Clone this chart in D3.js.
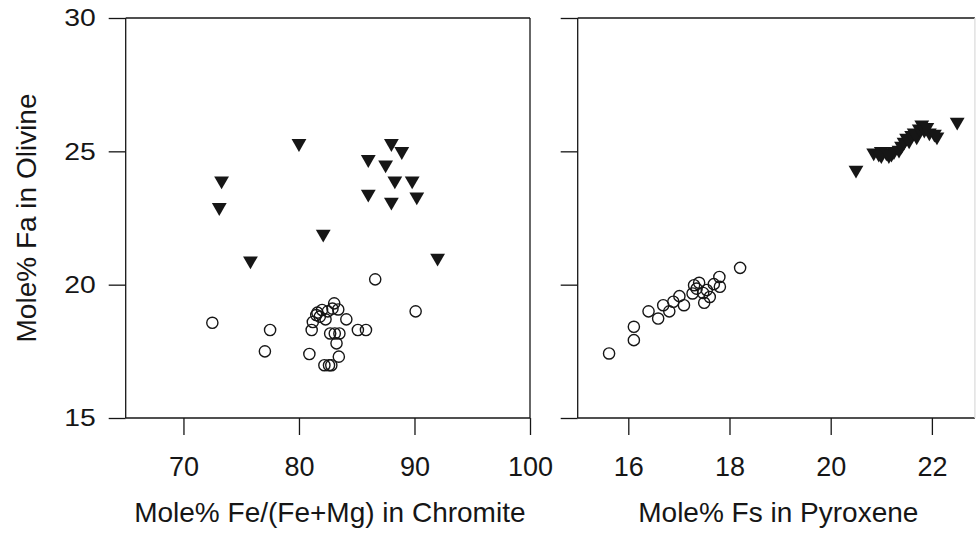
<!DOCTYPE html>
<html>
<head>
<meta charset="utf-8">
<script src="https://cdn.jsdelivr.net/npm/d3@7"></script>
<style>
body { margin: 0; background: #fff; }
svg { display: block; font-family: 'Liberation Sans', Arial, sans-serif; }
</style>
</head>
<body>
<svg id="chart" width="977" height="538"></svg>
<script>
// Mole% Fa in olivine, shared by both panels
var yTicks = [15, 20, 25, 30]
var yTitle = 'Mole% Fa in Olivine'

// left panel: Fe/(Fe+Mg) in chromite vs Fa in olivine
var chromiteTicks = [70, 80, 90, 100]
var chromiteTitle = 'Mole% Fe/(Fe+Mg) in Chromite'
var chromiteCircles = [
    [72.5, 18.57], [77.5, 18.3], [77.05, 17.5], [80.9, 17.4], [86.6, 20.2],
    [90.1, 19.0], [84.1, 18.7], [85.1, 18.3], [85.8, 18.3], [83.05, 19.3],
    [83.4, 19.07], [82.0, 19.05], [82.5, 19.0], [81.5, 18.86], [81.2, 18.6],
    [81.8, 18.8], [82.3, 18.7], [81.1, 18.3], [82.7, 18.17], [83.1, 18.17],
    [83.5, 18.17], [83.25, 17.8], [83.45, 17.3], [82.2, 16.98], [82.6, 16.98],
    [82.8, 16.98], [82.9, 19.1], [81.6, 18.95]
]
var chromiteTriangles = [
    [80.0, 25.3], [88.0, 25.3], [88.9, 25.0], [86.0, 24.7], [87.5, 24.5],
    [73.3, 23.9], [88.3, 23.9], [89.8, 23.9], [73.1, 22.9], [86.0, 23.4],
    [88.0, 23.1], [90.2, 23.3], [82.1, 21.9], [75.8, 20.9], [92.0, 21.0]
]

// right panel: Fs in pyroxene vs Fa in olivine
var pyroxeneTicks = [16, 18, 20, 22]
var pyroxeneTitle = 'Mole% Fs in Pyroxene'
var pyroxeneCircles = [
    [15.62, 17.42], [16.11, 18.42], [16.11, 17.92], [16.4, 19.0], [16.59, 18.73],
    [16.69, 19.23], [16.81, 19.0], [16.89, 19.36], [17.01, 19.57], [17.1, 19.23],
    [17.27, 19.67], [17.3, 19.98], [17.4, 20.07], [17.48, 19.69], [17.5, 19.32],
    [17.61, 19.54], [17.69, 20.02], [17.81, 19.92], [17.8, 20.29], [18.21, 20.63],
    [17.35, 19.85], [17.55, 19.8]
]
var pyroxeneTriangles = [
    [20.5, 24.3], [20.85, 24.95], [20.95, 24.9], [21.0, 25.0], [21.1, 24.95],
    [21.2, 24.9], [21.25, 25.0], [21.35, 25.05], [21.4, 25.2], [21.45, 25.35],
    [21.5, 25.5], [21.55, 25.4], [21.6, 25.6], [21.65, 25.7], [21.7, 25.55],
    [21.75, 25.85], [21.8, 26.0], [21.85, 25.8], [21.9, 25.9], [21.95, 25.7],
    [22.05, 25.65], [22.1, 25.55], [21.0, 24.85], [21.15, 24.85], [22.5, 26.1]
]

var svg = d3.select('#chart')
var ink = '#161616'

var y = d3.scaleLinear().domain([15, 30]).range([418, 18])

var panels = [
    {
        x: d3.scaleLinear().domain([65, 100]).range([125.7, 530]),
        ticks: chromiteTicks, title: chromiteTitle,
        circles: chromiteCircles, triangles: chromiteTriangles,
        yLabels: true, rightEdge: ink
    },
    {
        x: d3.scaleLinear().domain([15, 22.85]).range([577.7, 974.9]),
        ticks: pyroxeneTicks, title: pyroxeneTitle,
        circles: pyroxeneCircles, triangles: pyroxeneTriangles,
        yLabels: false, rightEdge: '#dcdcdc'
    }
]

var triangle = d3.symbol().type(d3.symbolTriangle).size(95)

panels.forEach(function(p) {
    var g = svg.append('g')
    var x = p.x
    var x0 = x.range()[0], x1 = x.range()[1]

    // y axis ticks (labels only on the left panel)
    var yAxis = g.append('g')
        .attr('transform', 'translate(' + x0 + ',0)')
        .call(d3.axisLeft(y).tickValues(yTicks).tickSize(17).tickPadding(13)
            .tickFormat(p.yLabels ? d3.format('d') : ''))
    yAxis.select('.domain').remove()
    yAxis.selectAll('line').attr('stroke', ink).attr('stroke-width', 1.3)
    yAxis.selectAll('text')
        .attr('fill', ink)
        .style('font-size', '24px')
        .attr('textLength', 31.5)
        .attr('lengthAdjust', 'spacingAndGlyphs')

    // x axis ticks
    var xAxis = g.append('g')
        .attr('transform', 'translate(0,' + y(15) + ')')
        .call(d3.axisBottom(x).tickValues(p.ticks).tickSize(17).tickFormat(d3.format('d')))
    xAxis.select('.domain').remove()
    xAxis.selectAll('line').attr('stroke', ink).attr('stroke-width', 1.3)
    xAxis.selectAll('text')
        .attr('fill', ink)
        .attr('y', 58)
        .attr('dy', 0)
        .style('font-size', '27px')

    // frame
    var frame = [
        [[x0, y(15)], [x0, y(30)], ink],
        [[x0, y(30)], [x1, y(30)], ink],
        [[x0, y(15)], [x1, y(15)], ink],
        [[x1, y(15)], [x1, y(30)], p.rightEdge]
    ]
    g.selectAll('.frame')
        .data(frame)
        .enter().append('line')
        .attr('x1', function(d) { return d[0][0] })
        .attr('y1', function(d) { return d[0][1] })
        .attr('x2', function(d) { return d[1][0] })
        .attr('y2', function(d) { return d[1][1] })
        .attr('stroke', function(d) { return d[2] })
        .attr('stroke-width', 1.3)

    // open circles
    g.selectAll('.circ')
        .data(p.circles)
        .enter().append('circle')
        .attr('cx', function(d) { return x(d[0]) })
        .attr('cy', function(d) { return y(d[1]) })
        .attr('r', 5.6)
        .attr('fill', 'none')
        .attr('stroke', ink)
        .attr('stroke-width', 1.4)

    // filled down-pointing triangles
    g.selectAll('.tri')
        .data(p.triangles)
        .enter().append('path')
        .attr('d', triangle)
        .attr('transform', function(d) {
            return 'translate(' + x(d[0]) + ',' + y(d[1]) + ') rotate(180)'
        })
        .attr('fill', ink)

    // x title
    g.append('text')
        .attr('x', (x0 + Math.min(x1, x0 + 404.3)) / 2 + 2)
        .attr('y', 522)
        .attr('text-anchor', 'middle')
        .attr('fill', ink)
        .style('font-size', '28px')
        .text(p.title)
})

svg.append('text')
    .attr('transform', 'translate(36,' + (y(15) + y(30)) / 2 + ') rotate(-90)')
    .attr('y', 0)
    .attr('dy', 0)
    .attr('text-anchor', 'middle')
    .attr('fill', ink)
    .style('font-size', '28px')
    .text(yTitle)
</script>
</body>
</html>
